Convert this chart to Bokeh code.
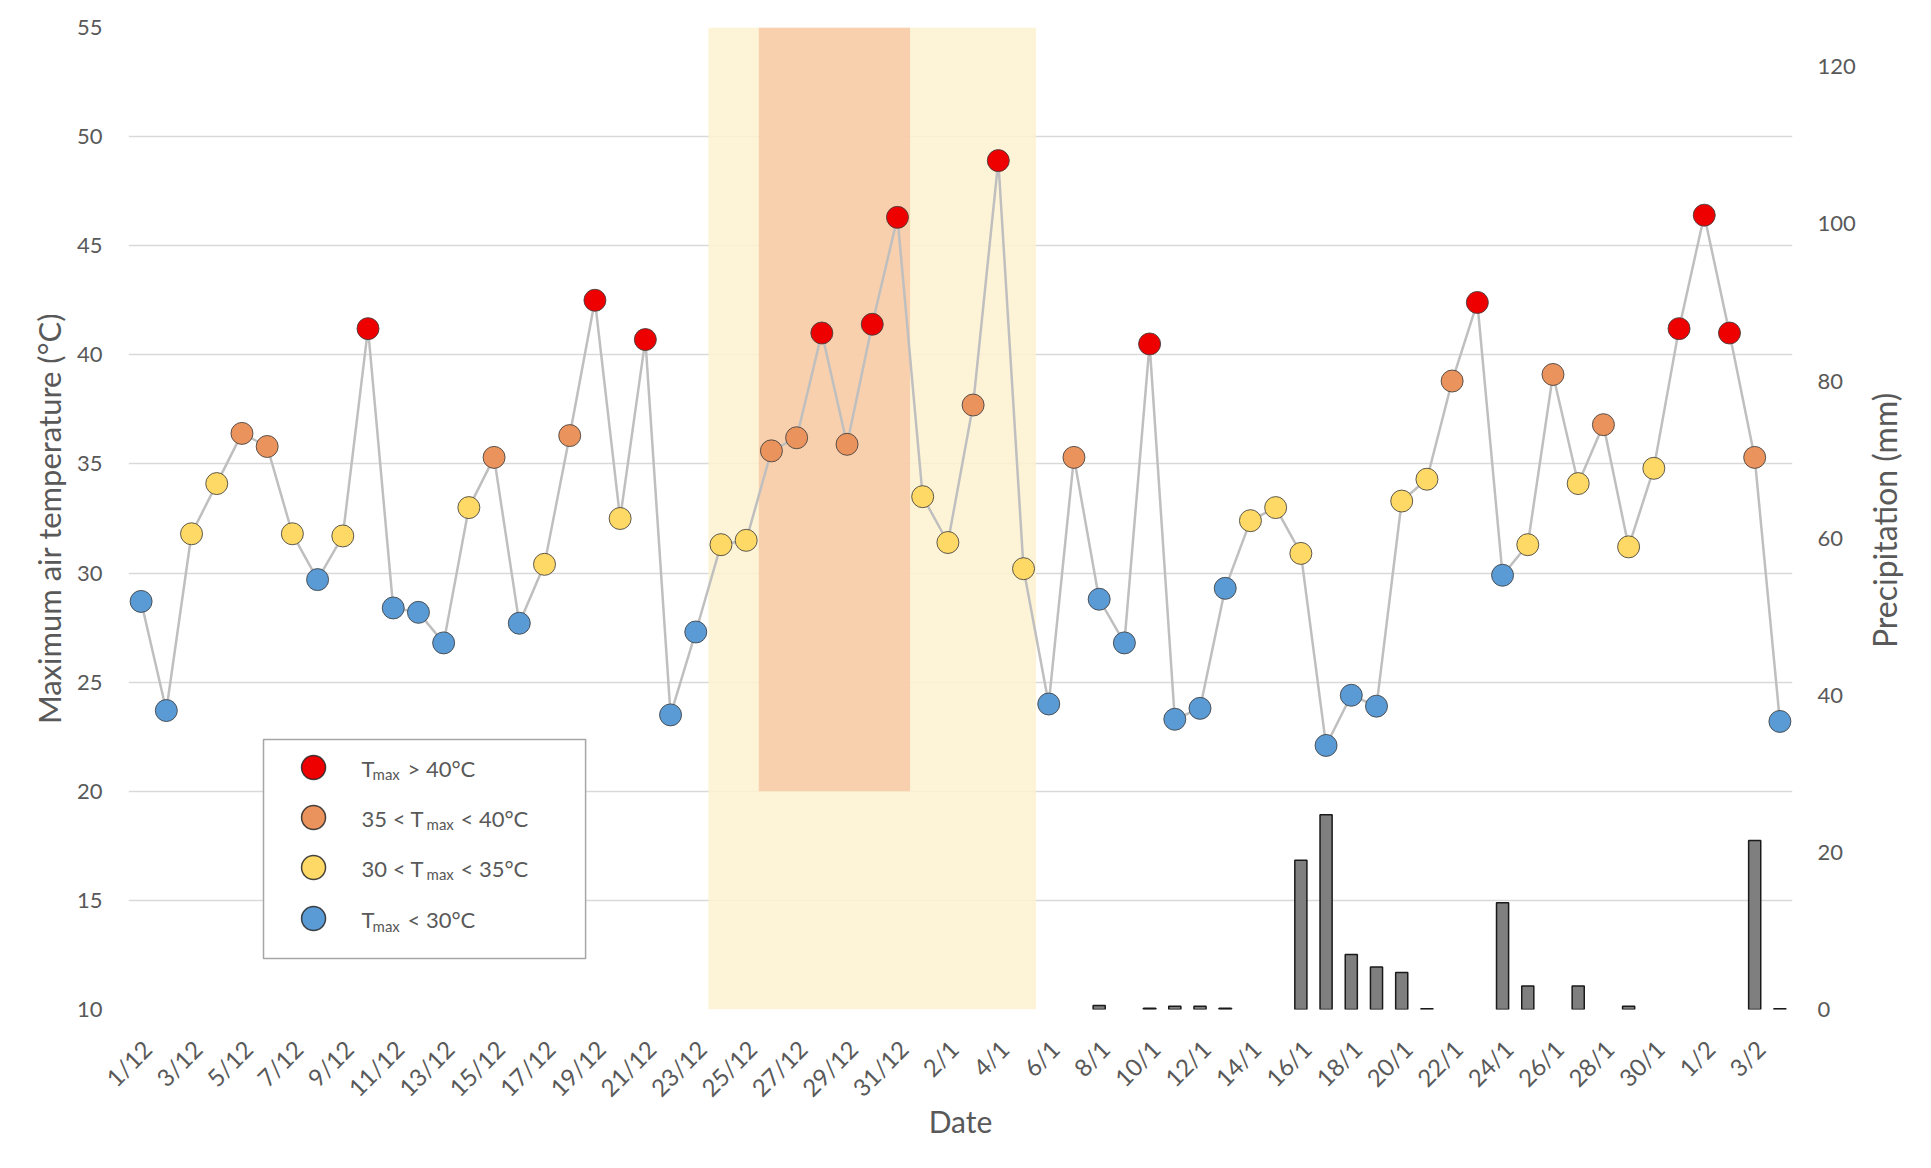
import math
from bokeh.plotting import figure
from bokeh.models import Range1d, LinearAxis, FixedTicker, ColumnDataSource
from bokeh.core.properties import value
from bokeh.embed import file_html
from bokeh.resources import INLINE

# ---------------- data ----------------
dates = ([f"{d}/12" for d in range(1, 32)] +
         [f"{d}/1" for d in range(1, 32)] +
         [f"{d}/2" for d in range(1, 5)])

tmax = [28.7, 23.7, 31.8, 34.1, 36.4, 35.8, 31.8, 29.7, 31.7, 41.2,
        28.4, 28.2, 26.8, 33.0, 35.3, 27.7, 30.4, 36.3, 42.5, 32.5,
        40.7, 23.5, 27.3, 31.3, 31.5, 35.6, 36.2, 41.0, 35.9, 41.4,
        46.3, 33.5, 31.4, 37.7, 48.9, 30.2, 24.0, 35.3, 28.8, 26.8,
        40.5, 23.3, 23.8, 29.3, 32.4, 33.0, 30.9, 22.1, 24.4, 23.9,
        33.3, 34.3, 38.8, 42.4, 29.9, 31.3, 39.1, 34.1, 36.8, 31.2,
        34.8, 41.2, 46.4, 41.0, 35.3, 23.2]

precip = [0, 0, 0, 0, 0, 0, 0, 0, 0, 0,
          0, 0, 0, 0, 0, 0, 0, 0, 0, 0,
          0, 0, 0, 0, 0, 0, 0, 0, 0, 0,
          0, 0, 0, 0, 0, 0, 0, 0, 0.5, 0,
          0.15, 0.4, 0.4, 0.15, 0, 0, 19.0, 24.8, 7.0, 5.4,
          4.7, 0.1, 0, 0, 13.6, 3.0, 0, 3.0, 0, 0.4,
          0, 0, 0, 0, 21.5, 0.1]

hot_period = ("24/12", "5/1")      # light yellow band
heatwave = ("26/12", "31/12")      # orange band

temp_ticks = [10, 15, 20, 25, 30, 35, 40, 45, 50, 55]
precip_ticks = [0, 20, 40, 60, 80, 100, 120]

class_colors = ["#EE0000", "#EA935D", "#FFD966", "#5B9BD5"]
legend_rows = [
    [("T", "main"), ("max", "sub"), ("> 40°C", "main2")],
    [("35 < T", "main"), ("max", "sub2"), ("< 40°C", "main3")],
    [("30 < T", "main"), ("max", "sub2"), ("< 35°C", "main3")],
    [("T", "main"), ("max", "sub"), ("< 30°C", "main2")],
]
right_title = "Precipitation (mm)"


def tclass(t):
    if t > 40:
        return 0
    if t > 35:
        return 1
    if t > 30:
        return 2
    return 3


# ---------------- figure ----------------
FONT = "Lato"
TXT = "#595959"
W, H = 1931, 1168

p = figure(width=W, height=H, x_range=Range1d(-0.5, len(dates) - 0.5),
           y_range=Range1d(10, 55), output_backend="svg", toolbar_location=None,
           min_border_left=128, min_border_right=139, min_border_top=27,
           min_border_bottom=159)
p.outline_line_color = None
p.background_fill_color = "white"
p.border_fill_color = "white"
p.extra_y_ranges = {"precip": Range1d(0, 125)}

x = list(range(len(dates)))

# shaded periods
i0, i1 = dates.index(hot_period[0]), dates.index(hot_period[1])
p.quad(left=[i0 - 0.5], right=[i1 + 0.5], bottom=[10], top=[55],
       fill_color="#FDF2D1", fill_alpha=0.85, line_color=None)
j0, j1 = dates.index(heatwave[0]), dates.index(heatwave[1])
p.quad(left=[j0 - 0.5], right=[j1 + 0.5], bottom=[20], top=[55],
       fill_color="#F7C9A6", fill_alpha=0.85, line_color=None)

# precipitation bars (only days with rain)
px = [i for i, v in zip(x, precip) if v > 0]
pv = [v for v in precip if v > 0]
p.vbar(x=px, top=pv, bottom=0, width=0.48, y_range_name="precip",
       fill_color="#7F7F7F", line_color="#1A1A1A", line_width=1.5)

# temperature line and markers
p.line(x, tmax, line_color="#BFBFBF", line_width=2.5)
cols = [class_colors[tclass(t)] for t in tmax]
src = ColumnDataSource(dict(x=x, y=tmax, c=cols))
p.scatter("x", "y", source=src, size=22, fill_color="c",
          line_color="#3F3F3F", line_width=1, line_alpha=0.85)

# ---------------- legend (manual, for subscripts) ----------------
bx0, bx1, by0, by1 = 4.855, 17.63, 12.34, 22.37
p.quad(left=[bx0], right=[bx1], bottom=[by0], top=[by1], fill_color="white",
       line_color="#A6A6A6", line_width=1.5)
row_y = [21.09, 18.80, 16.51, 14.17]
cx = 6.84
p.scatter([cx] * 4, row_y, size=24, fill_color=class_colors,
          line_color="#262626", line_width=1.5, line_alpha=0.85)
offsets = {"main": (48, 1), "sub": (59, 7), "main2": (94, 1),
           "sub2": (113, 7), "main3": (147, 1)}
lx, ly, lt, lxo, lyo, lsz = [], [], [], [], [], []
for ry, row in zip(row_y, legend_rows):
    for txt, kind in row:
        xo, yo = offsets[kind]
        lx.append(cx); ly.append(ry); lt.append(txt)
        lxo.append(xo); lyo.append(yo)
        lsz.append("15px" if kind.startswith("sub") else "22px")
lsrc = ColumnDataSource(dict(x=lx, y=ly, t=lt, xo=lxo, yo=lyo, s=lsz))
p.text(x="x", y="y", text="t", x_offset="xo", y_offset="yo",
       text_font_size="s", source=lsrc, text_font=value(FONT),
       text_color=TXT, text_align="left", text_baseline="alphabetic")

# ---------------- axes ----------------
LAB_SHIFT = 0.24   # nudge rotated date labels right, as in the reference
xt = [i + LAB_SHIFT for i in range(0, len(dates), 2)]
p.xaxis.ticker = FixedTicker(ticks=xt)
p.xaxis.major_label_overrides = {t: dates[int(round(t - LAB_SHIFT))] for t in xt}
p.xaxis.major_label_orientation = math.pi / 4
p.xaxis.axis_label = "Date"

p.yaxis.ticker = FixedTicker(ticks=temp_ticks)
p.yaxis.axis_label = "Maximum air temperature (°C)"

ry_axis = LinearAxis(y_range_name="precip", ticker=FixedTicker(ticks=precip_ticks))
p.add_layout(ry_axis, "right")

# right-hand title, reading bottom-to-top: a label-only axis whose single
# (rotated) tick label is the title; the label starts at TITLE_START mm
TITLE_START = 46
title_axis = LinearAxis(y_range_name="precip", ticker=FixedTicker(ticks=[TITLE_START]),
                        major_label_overrides={TITLE_START: right_title},
                        major_label_orientation=math.pi / 2)
p.add_layout(title_axis, "right")

for ax in [p.xaxis[0], p.yaxis[0], ry_axis, title_axis]:
    ax.axis_line_color = None
    ax.major_tick_line_color = None
    ax.minor_tick_line_color = None
    ax.major_label_text_font = FONT
    ax.major_label_text_font_size = "22px"
    ax.major_label_text_color = TXT
    ax.axis_label_text_font = FONT
    ax.axis_label_text_font_size = "30px"
    ax.axis_label_text_font_style = "normal"
    ax.axis_label_text_color = TXT

p.yaxis.axis_label_text_font_size = "31px"
title_axis.major_label_text_font_size = "32px"
title_axis.major_label_standoff = 20

p.xaxis.major_label_text_font_size = "24px"
p.xaxis.major_label_standoff = 29
p.xaxis.axis_label_standoff = -12
p.yaxis.major_label_standoff = 20
p.yaxis.axis_label_standoff = 6
ry_axis.major_label_standoff = 19

p.xgrid.visible = False
p.ygrid.ticker = FixedTicker(ticks=temp_ticks)
p.ygrid.grid_line_color = "#D9D9D9"
p.ygrid.grid_line_width = 1.5

open("out.html", "w").write(file_html(p, INLINE))
